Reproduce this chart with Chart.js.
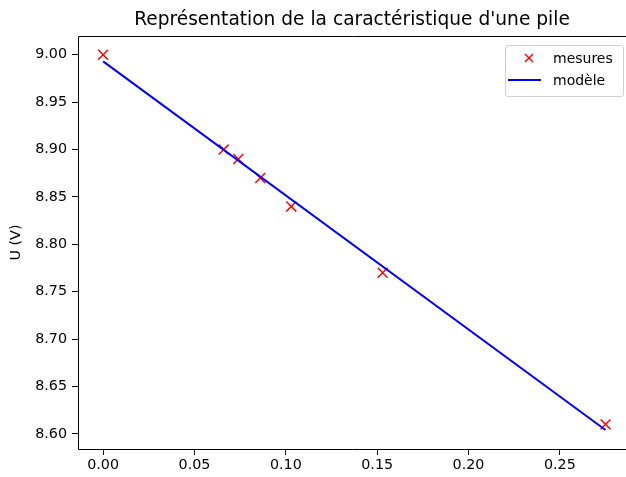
<!DOCTYPE html>
<html lang="fr">

<head>
    <meta charset="UTF-8">
    <title>Caractéristique d'une pile</title>
    <style>
        body { margin: 0; overflow: hidden; background: #fff; }
        #wrap { position: relative; width: 626px; height: 477px; }
        #legende {
            position: absolute; left: 505px; top: 45px; width: 117px; height: 50px;
            border: 1px solid #d0d0d0; border-radius: 3px; background: rgba(255, 255, 255, 0.8);
            font-family: 'DejaVu Sans'; font-size: 14px; color: #000;
        }
        .item { position: absolute; left: 0; height: 20px; line-height: 20px; }
        .item span { position: absolute; left: 47px; white-space: nowrap; }
    </style>
</head>

<body>
    <div id="wrap">
        <canvas id="pile" width="626" height="477"></canvas>
        <!-- légende en HTML, placée dans le coin haut droit du graphe -->
        <div id="legende">
            <div class="item" style="top:2px">
                <svg width="40" height="20" style="position:absolute;left:3px;top:0">
                    <line x1="16" y1="6" x2="24" y2="14" stroke="red" stroke-width="1.5" />
                    <line x1="24" y1="6" x2="16" y2="14" stroke="red" stroke-width="1.5" />
                </svg>
                <span>mesures</span>
            </div>
            <div class="item" style="top:24px">
                <div style="position:absolute;left:2px;top:9px;width:33px;height:2px;background:#0000ff"></div>
                <span>modèle</span>
            </div>
        </div>
    </div>
    <script src="https://cdn.jsdelivr.net/npm/chart.js"></script>
    <script>
        // mesures (intensité en A, tension en V)
        const mesuresI = [0.000, 0.066, 0.074, 0.086, 0.103, 0.153, 0.275];
        const mesuresU = [9.00, 8.90, 8.89, 8.87, 8.84, 8.77, 8.61];
        // droite du modèle (extrémités)
        const modeleI = [0.000, 0.275];
        const modeleU = [8.993, 8.604];
        // graduations
        const xTicks = [0.00, 0.05, 0.10, 0.15, 0.20, 0.25];
        const yTicks = [8.60, 8.65, 8.70, 8.75, 8.80, 8.85, 8.90, 8.95, 9.00];

        Chart.defaults.font.family = 'DejaVu Sans';
        Chart.defaults.color = '#000';

        // cadre haut / gauche / bas (le bord droit est coupé sur la figure)
        const cadre = {
            id: 'cadre',
            afterDraw(chart) {
                const a = chart.chartArea;
                const ctx = chart.ctx;
                ctx.save();
                ctx.strokeStyle = '#000';
                ctx.lineWidth = 1;
                ctx.beginPath();
                ctx.moveTo(chart.width, a.top + 0.5);
                ctx.lineTo(a.left + 0.5, a.top + 0.5);
                ctx.lineTo(a.left + 0.5, a.bottom + 0.5);
                ctx.lineTo(chart.width, a.bottom + 0.5);
                ctx.stroke();
                ctx.restore();
            }
        };

        const ctx = document.getElementById('pile');
        const chart = new Chart(ctx, {
            type: 'scatter',
            data: {
                datasets: [{
                    label: 'mesures',
                    data: mesuresI.map((x, i) => ({ x: x, y: mesuresU[i] })),
                    pointStyle: 'crossRot',
                    pointRadius: 7,
                    pointHoverRadius: 7,
                    pointBorderWidth: 1.5,
                    borderColor: 'red',
                    backgroundColor: 'red',
                    showLine: false,
                    order: 2
                }, {
                    label: 'modèle',
                    data: modeleI.map((x, i) => ({ x: x, y: modeleU[i] })),
                    showLine: true,
                    borderColor: '#0000ff',
                    borderWidth: 2,
                    pointRadius: 0,
                    order: 1
                }]
            },
            options: {
                responsive: false,
                animation: false,
                // sinon Chart.js ajoute une marge à droite pour les marqueurs
                layout: { padding: 0, autoPadding: false },
                plugins: {
                    legend: { display: false },
                    tooltip: { enabled: false },
                    title: {
                        display: true,
                        fullSize: false,
                        text: "Représentation de la caractéristique d'une pile",
                        font: { size: 18.6, weight: 'normal' },
                        padding: { top: 8.8, bottom: 4.9 }
                    }
                },
                scales: {
                    x: {
                        type: 'linear',
                        min: -0.01375,
                        max: 0.2862,
                        afterBuildTicks: s => { s.ticks = xTicks.map(v => ({ value: v })); },
                        afterFit: s => { s.height = 28; },
                        ticks: {
                            font: { size: 14.3 },
                            padding: 2,
                            maxRotation: 0,
                            callback: v => Number(v).toFixed(2)
                        },
                        grid: { drawOnChartArea: false, tickLength: 6, color: '#000' },
                        border: { display: false }
                    },
                    y: {
                        type: 'linear',
                        min: 8.5840,
                        max: 9.0198,
                        afterBuildTicks: s => { s.ticks = yTicks.map(v => ({ value: v })); },
                        afterFit: s => { s.width = 78; },
                        ticks: {
                            font: { size: 14.3 },
                            padding: 5,
                            callback: v => Number(v).toFixed(2)
                        },
                        grid: { drawOnChartArea: false, tickLength: 6, color: '#000' },
                        border: { display: false },
                        title: {
                            display: true,
                            text: 'U (V)',
                            font: { size: 14.3 },
                            padding: { top: 8, bottom: 0 }
                        }
                    }
                }
            },
            plugins: [cadre]
        });
    </script>
</body>

</html>
